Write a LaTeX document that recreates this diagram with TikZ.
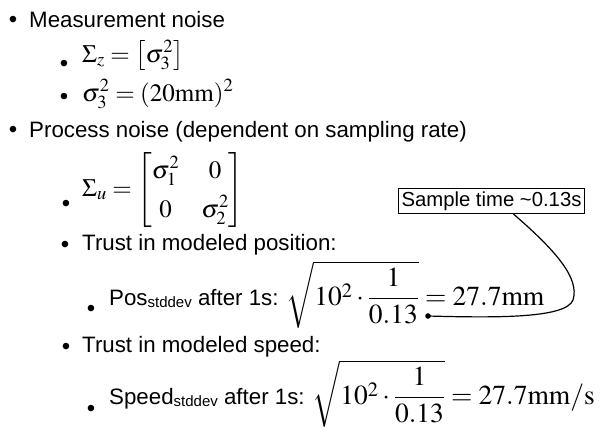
\documentclass[tikz,border=0pt]{standalone}
\usepackage{mathptmx}
\usepackage{amsmath}
\usepackage[no-math]{fontspec}
\setmainfont{Liberation Sans}
\newcommand{\mth}[1]{{\fontsize{27.5}{33}\selectfont$#1$}}
\newcommand{\mths}[1]{{\fontsize{25}{30}\selectfont$#1$}}
\newcommand{\subtxt}[1]{\raisebox{-2.5pt}{\fontsize{15}{18}\selectfont #1}}
\begin{document}
\begin{tikzpicture}[x=1pt,y=-1pt,
  txt/.style={anchor=base west,inner sep=0pt,font=\fontsize{22.3}{27}\selectfont},
  bul/.style={anchor=base,inner sep=0pt,font=\fontsize{24}{28}\selectfont},
  tbox/.style={draw,line width=1.2pt,inner sep=3pt,font=\fontsize{20.3}{24}\selectfont},
  link/.style={line width=1.2pt}]
\useasboundingbox (0,0) rectangle (607,442);
\node[bul] (b1) at (13,27) {•};
\node[txt] (t1) at (29,27) {Measurement noise};
\node[bul] (b2) at (64,71) {•};
\node[txt] (t2) at (82,62) {\mths{\Sigma_z=\left[\sigma_3^2\right]}};
\node[bul] (b3) at (64,104) {•};
\node[txt] (t3) at (82,101) {\mths{\sigma_3^2=(20\mathrm{mm})^2}};
\node[bul] (b4) at (13,137) {•};
\node[txt] (t4) at (29,137) {Process noise (dependent on sampling rate)};
\node[bul] (b5) at (66,211) {•};
\node[txt] (t5) at (82,196) {\mths{\renewcommand{\arraystretch}{1.3}\setlength{\arraycolsep}{11pt}\Sigma_u=\begin{bmatrix}\sigma_1^2 & 0\\ 0 & \sigma_2^2\end{bmatrix}}};
\node[bul] (b6) at (65,252) {•};
\node[txt] (t6) at (82,250) {Trust in modeled position:};
\node[bul] (b7) at (91,316) {•};
\node[txt] (t7) at (109,305) {Pos\subtxt{stddev} after 1s: \mth{\sqrt{10^2\cdot\dfrac{1}{0.13}}=27.7\mathrm{mm}}};
\node[bul] (b8) at (66,354) {•};
\node[txt] (t8) at (82,352) {Trust in modeled speed:};
\node[bul] (b9) at (91,416) {•};
\node[txt] (t9) at (109,404) {Speed\subtxt{stddev} after 1s: \mth{\sqrt{10^2\cdot\dfrac{1}{0.13}}=27.7\mathrm{mm/s}}};
\node[tbox] (S) at (491.5,201) {Sample time \textasciitilde 0.13s};
\coordinate (d) at (428,316);
\fill (d) circle (2.8);
\path (S.south) ++(22,0) coordinate (s0);
\draw[link] (s0) .. controls (555,250) and (580,278) .. (573,300) .. controls (566,318) and (500,318) .. (d);
\end{tikzpicture}
\end{document}
